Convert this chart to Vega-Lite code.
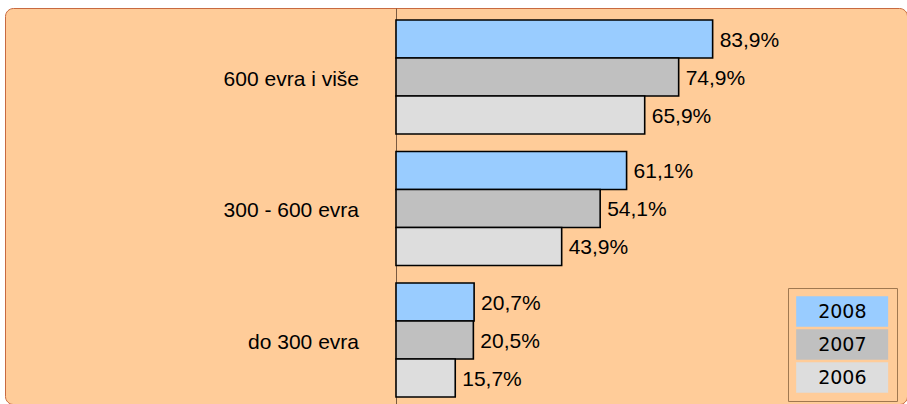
{
  "$schema": "https://vega.github.io/schema/vega-lite/v6.json",
  "width": 902,
  "height": 396,
  "autosize": "none",
  "padding": {"left": 5, "top": 8, "right": 0, "bottom": 0},
  "background": "white",
  "data": {
    "values": [
      {"category": "600 evra i više", "year": "2008", "value": 83.9},
      {"category": "600 evra i više", "year": "2007", "value": 74.9},
      {"category": "600 evra i više", "year": "2006", "value": 65.9},
      {"category": "300 - 600 evra", "year": "2008", "value": 61.1},
      {"category": "300 - 600 evra", "year": "2007", "value": 54.1},
      {"category": "300 - 600 evra", "year": "2006", "value": 43.9},
      {"category": "do 300 evra", "year": "2008", "value": 20.7},
      {"category": "do 300 evra", "year": "2007", "value": 20.5},
      {"category": "do 300 evra", "year": "2006", "value": 15.7}
    ]
  },
  "layer": [
    {
      "mark": {"type": "bar", "stroke": "#000000", "strokeWidth": 1.6},
      "encoding": {
        "y": {
          "field": "category",
          "type": "nominal",
          "sort": ["600 evra i više", "300 - 600 evra", "do 300 evra"],
          "scale": {"paddingInner": 0.133, "paddingOuter": 0.0722, "align": 0.63},
          "axis": null
        },
        "x": {
          "field": "value",
          "type": "quantitative",
          "scale": {"domain": [-103.6, 135.4], "nice": false, "zero": false},
          "axis": {"values": [0], "grid": true, "gridColor": "#7A5A40", "gridOpacity": 1, "gridWidth": 1, "labels": false, "ticks": false, "domain": false, "title": null}
        },
        "yOffset": {
          "field": "year",
          "type": "nominal",
          "sort": ["2008", "2007", "2006"],
          "scale": {"paddingInner": 0, "paddingOuter": 0}
        },
        "color": {
          "field": "year",
          "type": "nominal",
          "scale": {"domain": ["2008", "2007", "2006"], "range": ["#99CCFF", "#C0C0C0", "#DDDDDD"]},
          "legend": {
            "orient": "none",
            "legendX": 783,
            "legendY": 280,
            "title": null,
            "symbolType": "M-1,-1H5V1H-1Z",
            "symbolSize": 940,
            "symbolStrokeWidth": 0,
            "symbolOpacity": 1,
            "labelAlign": "center",
            "labelOffset": 15.33,
            "labelFont": "DejaVu Sans",
            "labelFontSize": 19,
            "labelColor": "#000000",
            "rowPadding": 2,
            "padding": 8,
            "strokeColor": "#A07850",
            "fillColor": "#FFCC99"
          }
        }
      }
    },
    {
      "transform": [
        {"calculate": "replace(format(datum.value, '.1f'), '.', ',') + '%'", "as": "label"}
      ],
      "mark": {"type": "text", "align": "left", "baseline": "middle", "dx": 7, "dy": 2, "font": "Liberation Sans", "fontSize": 21, "color": "#000000"},
      "encoding": {
        "y": {"field": "category", "type": "nominal", "sort": ["600 evra i više", "300 - 600 evra", "do 300 evra"]},
        "x": {"field": "value", "type": "quantitative"},
        "yOffset": {"field": "year", "type": "nominal", "sort": ["2008", "2007", "2006"]},
        "text": {"field": "label", "type": "nominal"}
      }
    },
    {
      "transform": [
        {"filter": "datum.year == '2007'"}
      ],
      "mark": {"type": "text", "align": "right", "baseline": "middle", "dx": -37, "dy": 3, "font": "Liberation Sans", "fontSize": 21, "color": "#000000"},
      "encoding": {
        "y": {"field": "category", "type": "nominal", "sort": ["600 evra i više", "300 - 600 evra", "do 300 evra"]},
        "x": {"datum": 0, "type": "quantitative"},
        "text": {"field": "category", "type": "nominal"}
      }
    }
  ],
  "config": {
    "view": {"fill": "#FFCC99", "stroke": "#C86A40", "strokeWidth": 1, "cornerRadius": 8}
  }
}
